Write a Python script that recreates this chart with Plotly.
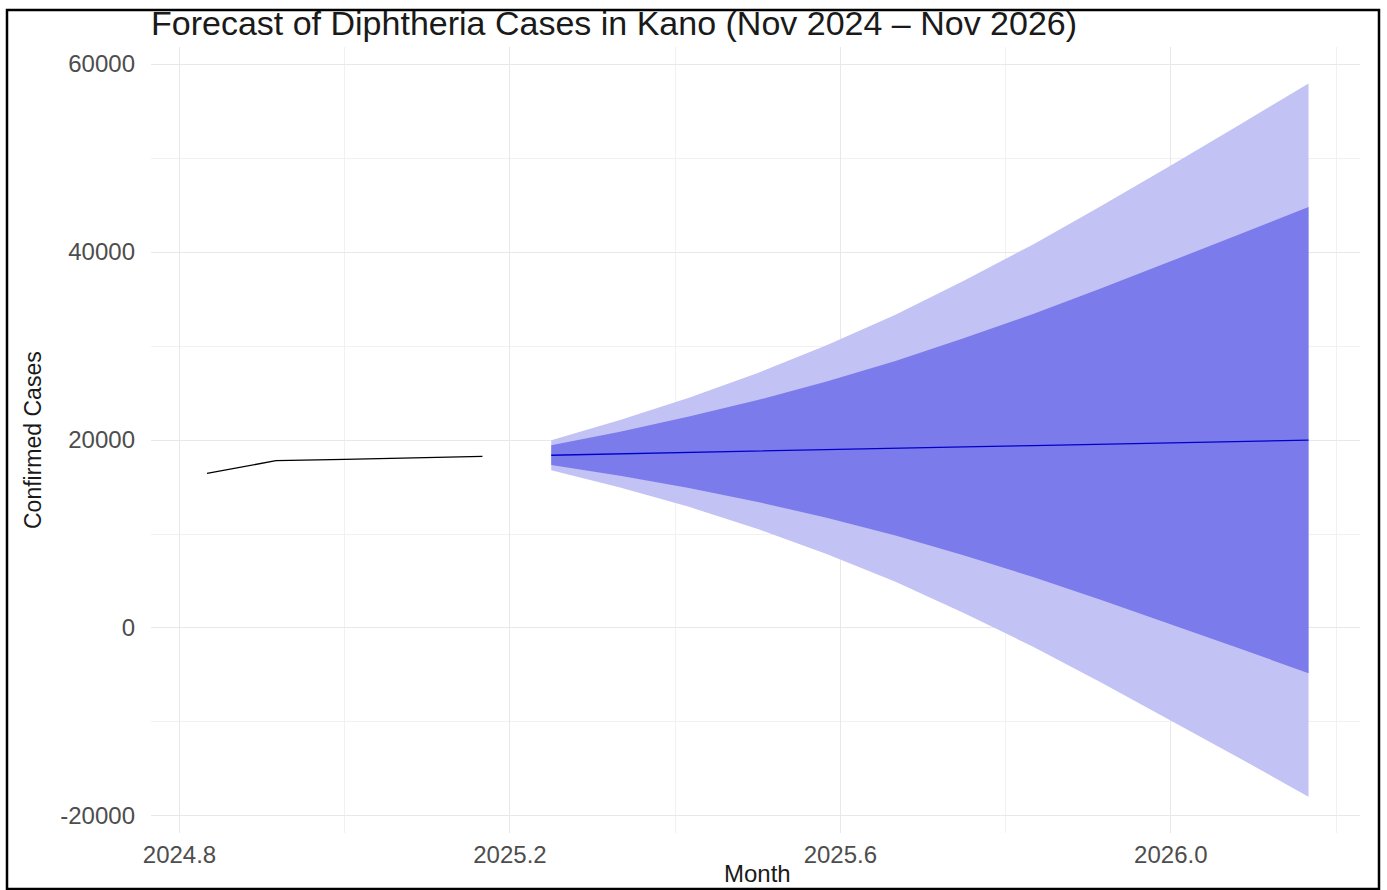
import plotly.graph_objects as go

# Observed monthly confirmed cases (decimal year)
hist_time = [2024.8333, 2024.9167, 2025.0, 2025.0833, 2025.1667]
hist_cases = [16450, 17800, 17940, 18090, 18260]

# Forecast horizon: Apr 2025 - Mar 2026
fc_time = [2025.25, 2025.3333, 2025.4167, 2025.5, 2025.5833, 2025.6667,
           2025.75, 2025.8333, 2025.9167, 2026.0, 2026.0833, 2026.1667]
fc_mean = [18380, 18540, 18690, 18830, 18980, 19120,
           19270, 19410, 19560, 19700, 19850, 19990]
lo80 = [17330, 16190, 14890, 13410, 11730, 9840,
        7700, 5420, 2960, 420, -2180, -4810]
hi80 = [19430, 20890, 22490, 24250, 26230, 28400,
        30840, 33400, 36160, 38980, 41880, 44790]
lo95 = [16780, 14940, 12890, 10530, 7880, 4920,
        1570, -1990, -5840, -9800, -13850, -17960]
hi95 = [19980, 22140, 24490, 27130, 30080, 33320,
        36970, 40810, 44960, 49200, 53550, 57940]

x_ticks = [2024.8, 2025.2, 2025.6, 2026.0]
x_tick_text = ["2024.8", "2025.2", "2025.6", "2026.0"]
y_ticks = [-20000, 0, 20000, 40000, 60000]
y_tick_text = ["-20000", "0", "20000", "40000", "60000"]

LIGHT = "#C2C2F4"
DARK = "#7B7BEC"
FONT = "Liberation Sans, Arial, sans-serif"

fig = go.Figure()

# 95% interval
fig.add_trace(go.Scatter(x=fc_time, y=lo95, mode="lines", line=dict(width=0),
                         showlegend=False, hoverinfo="skip"))
fig.add_trace(go.Scatter(x=fc_time, y=hi95, mode="lines", line=dict(width=0),
                         fill="tonexty", fillcolor=LIGHT, showlegend=False,
                         hoverinfo="skip"))
# 80% interval
fig.add_trace(go.Scatter(x=fc_time, y=lo80, mode="lines", line=dict(width=0),
                         showlegend=False, hoverinfo="skip"))
fig.add_trace(go.Scatter(x=fc_time, y=hi80, mode="lines", line=dict(width=0),
                         fill="tonexty", fillcolor=DARK, showlegend=False,
                         hoverinfo="skip"))
# point forecast
fig.add_trace(go.Scatter(x=fc_time, y=fc_mean, mode="lines",
                         line=dict(color="#0000CC", width=1.3), showlegend=False))
# observed series
fig.add_trace(go.Scatter(x=hist_time, y=hist_cases, mode="lines",
                         line=dict(color="#000000", width=1.3), showlegend=False))

W, H = 1387, 890
L, R, T, B = 151, 27, 47, 57
pw, ph = W - L - R, H - T - B


def px_x(p):
    return (p - L) / pw


def px_y(p):
    return (H - B - p) / ph


grid = "#E8E8E8"
minor_grid = "#F1F1F1"

fig.update_layout(
    width=W, height=H,
    margin=dict(l=L, r=R, t=T, b=B),
    paper_bgcolor="white", plot_bgcolor="white",
    font=dict(family=FONT, color="#4D4D4D"),
    title=dict(text="Forecast of Diphtheria Cases in Kano (Nov 2024 – Nov 2026)",
               x=151 / W, xanchor="left", y=1 - 23 / H, yanchor="middle",
               font=dict(size=34, color="#1A1A1A", family=FONT)),
    xaxis=dict(range=[2024.7655, 2026.229], tickvals=x_ticks, ticktext=x_tick_text,
               showgrid=True, gridcolor=grid, gridwidth=1.2, zeroline=False,
               showline=False, ticks="", ticklabelstandoff=5,
               tickfont=dict(size=24, color="#4D4D4D"),
               minor=dict(tickvals=[2025.0, 2025.4, 2025.8, 2026.2], showgrid=True,
                          gridcolor=minor_grid, gridwidth=1)),
    yaxis=dict(range=[-21810, 61810], tickvals=y_ticks, ticktext=y_tick_text,
               showgrid=True, gridcolor=grid, gridwidth=1.2, zeroline=False,
               showline=False, ticks="", ticklabelstandoff=15,
               tickfont=dict(size=24, color="#4D4D4D"),
               minor=dict(tickvals=[-10000, 10000, 30000, 50000], showgrid=True,
                          gridcolor=minor_grid, gridwidth=1)),
    annotations=[
        dict(text="Month", xref="paper", yref="paper", x=px_x(757), y=px_y(873),
             xanchor="center", yanchor="middle", showarrow=False,
             font=dict(size=24, color="#1A1A1A", family=FONT)),
        dict(text="Confirmed Cases", xref="paper", yref="paper", x=px_x(33),
             y=px_y(440), xanchor="center", yanchor="middle", textangle=-90,
             showarrow=False, font=dict(size=23, color="#1A1A1A", family=FONT)),
    ],
    shapes=[
        dict(type="rect", xref="paper", yref="paper",
             x0=px_x(7), x1=px_x(1379), y0=px_y(889), y1=px_y(10),
             line=dict(color="black", width=2.5), fillcolor="rgba(0,0,0,0)",
             layer="above"),
    ],
)

fig.write_html("out.html")
